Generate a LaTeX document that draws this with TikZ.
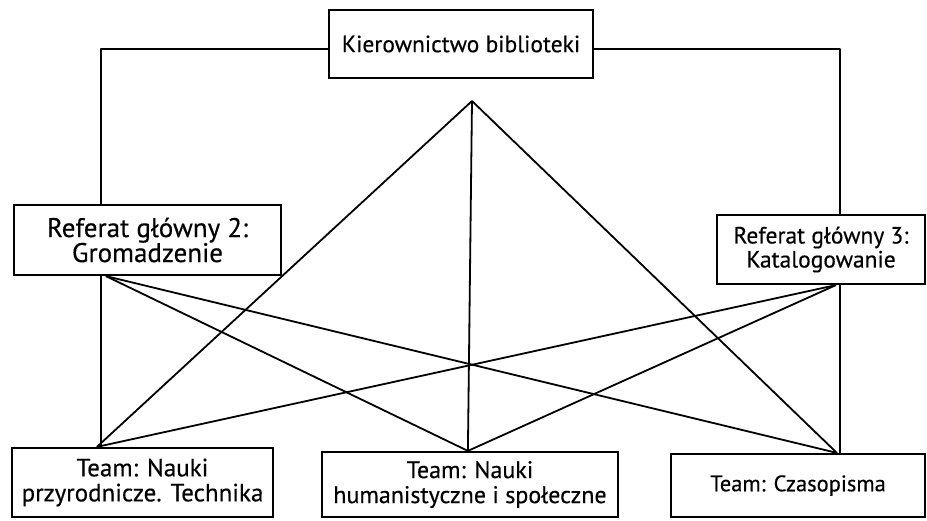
\documentclass[tikz,border=0pt]{standalone}
\usepackage{fontspec}
\setmainfont{PT Sans}
\newfontfamily\boxfont{PT Sans}[FakeBold=0.35]
\usetikzlibrary{calc}
\begin{document}
\begin{tikzpicture}[x=1pt,y=-1pt,
  unit/.style={draw,line width=2.2pt,rectangle,inner sep=0pt,align=center},
  link/.style={line width=1.8pt,line join=round}]
\useasboundingbox (0,0) rectangle (927,520);
% boxes of the organisation chart
\node[unit,minimum width=264,minimum height=68,font=\boxfont\fontsize{23.5}{25}\selectfont]
  (top) at (461,44) {Kierownictwo biblioteki};
\node[unit,minimum width=267,minimum height=70,font=\boxfont\fontsize{27}{25}\selectfont]
  (r2) at (147.5,240) {Referat główny 2:\\Gromadzenie};
\node[unit,minimum width=208,minimum height=69,font=\boxfont\fontsize{23.5}{24}\selectfont]
  (r3) at (821,249.5) {Referat główny 3:\\Katalogowanie};
\node[unit,minimum width=261,minimum height=69,font=\boxfont\fontsize{25}{25}\selectfont]
  (tl) at (142.5,482.5) {Team: Nauki\\przyrodnicze. Technika};
\node[unit,minimum width=296,minimum height=65,font=\boxfont\fontsize{24}{25}\selectfont]
  (tm) at (470,484.5) {Team: Nauki\\humanistyczne i społeczne};
\node[unit,minimum width=254,minimum height=63,font=\boxfont\fontsize{22.5}{25}\selectfont]
  (tr) at (798,485.5) {Team: Czasopisma};
% junction points
\coordinate (cl) at (101,49);
\coordinate (cr) at (840,49);
\coordinate (apex) at (472,101);
\coordinate (jl) at ($(tl.north west)+(86,0)$);
\coordinate (jm) at ($(tm.north west)+(147,0)$);
\coordinate (jr) at ($(tr.north west)+(167,0)$);
\coordinate (f2) at ($(r2.south west)+(93,0)$);
\coordinate (f3) at ($(r3.south west)+(120,0)$);
% management to main departments
\draw[link] (top.west |- cl) -- (cl) -- (r2.north -| cl);
\draw[link] (top.east |- cr) -- (cr) -- (r3.north -| cr);
% main departments down to their columns
\draw[link] (r2.south -| cl) -- (tl.north -| cl);
\draw[link] (r3.south -| cr) -- (tr.north -| cr);
% central fan to the teams
\draw[link] (apex) -- (jl);
\draw[link] (apex) -- (jm);
\draw[link] (apex) -- (jr);
% cross links from main departments
\draw[link] (f2) -- (jm);
\draw[link] (f2) -- (jr);
\draw[link] (f3) -- (jl);
\draw[link] (f3) -- (jm);
\end{tikzpicture}
\end{document}
